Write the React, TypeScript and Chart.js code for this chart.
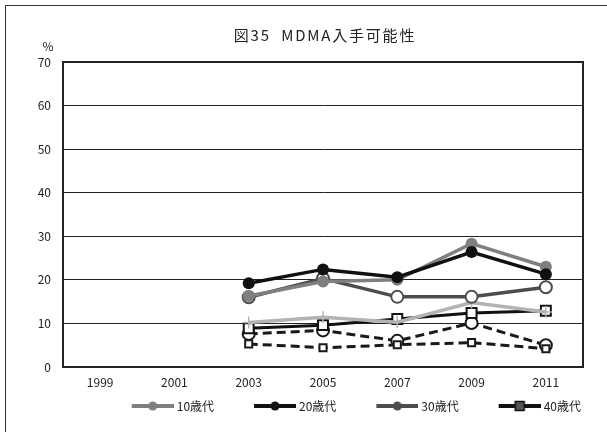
import React, { useEffect, useRef } from "react";
import { Chart, registerables } from "chart.js";

Chart.register(...registerables);

const years = ["1999", "2001", "2003", "2005", "2007", "2009", "2011"];
const yTicks = [0, 10, 20, 30, 40, 50, 60, 70];
const legendNames = ["10歳代", "20歳代", "30歳代", "40歳代"];

const teens = [null, null, 16.3, 19.6, 20.0, 28.3, 23.0];
const twenties = [null, null, 19.2, 22.4, 20.6, 26.4, 21.3];
const thirties = [null, null, 16.0, 20.3, 16.1, 16.1, 18.3];
const forties = [null, null, 8.9, 9.6, 11.0, 12.4, 12.9];
const plusSeries = [null, null, 10.2, 11.4, 10.3, 14.8, 12.6];
const dashCircle = [null, null, 7.6, 8.4, 6.0, 10.1, 5.0];
const dashSquare = [null, null, 5.3, 4.4, 5.1, 5.6, 4.2];

const ICON_W = 77;

function legendIcon(color: string, kind: "circle" | "square", fill: string) {
  const c = document.createElement("canvas");
  const w = ICON_W + 6;
  c.width = w;
  c.height = 12;
  const ctx = c.getContext("2d")!;
  const x0 = w - 42;
  ctx.strokeStyle = color;
  ctx.lineWidth = 4;
  ctx.beginPath();
  ctx.moveTo(x0, 6);
  ctx.lineTo(w, 6);
  ctx.stroke();
  ctx.fillStyle = fill;
  const cx = x0 + 21;
  if (kind === "circle") {
    ctx.beginPath();
    ctx.arc(cx, 6, 4.5, 0, Math.PI * 2);
    ctx.fill();
  } else {
    ctx.fillRect(cx - 4.5, 1.5, 9, 9);
    ctx.strokeStyle = "#111";
    ctx.lineWidth = 1.5;
    ctx.strokeRect(cx - 4.5, 1.5, 9, 9);
  }
  return c;
}

export default function App() {
  const ref = useRef<HTMLCanvasElement>(null);
  useEffect(() => {
    const icons = [
      legendIcon("#7f7f7f", "circle", "#7f7f7f"),
      legendIcon("#111111", "circle", "#111111"),
      legendIcon("#4d4d4d", "circle", "#4d4d4d"),
      legendIcon("#111111", "square", "#555555"),
    ];
    const font = "'Noto Sans CJK JP', 'Noto Sans', sans-serif";
    const decor = {
      id: "decor",
      afterDraw(chart: any) {
        const ctx = chart.ctx;
        const a = chart.chartArea;
        ctx.save();
        ctx.fillStyle = "#222";
        ctx.font = `15px ${font}`;
        ctx.textAlign = "center";
        ctx.textBaseline = "middle";
        try {
          (ctx as any).letterSpacing = "1.8px";
        } catch (e) {}
        ctx.fillText("図35  MDMA入手可能性", 325, 35);
        try {
          (ctx as any).letterSpacing = "0px";
        } catch (e) {}
        ctx.font = `12px ${font}`;
        ctx.fillText("%", 48, 46);
        ctx.strokeStyle = "#222";
        ctx.lineWidth = 2;
        ctx.strokeRect(a.left, a.top, a.right - a.left, a.bottom - a.top);
        ctx.restore();
      },
    };
    const chart = new Chart(ref.current!, {
      type: "line",
      data: {
        labels: years,
        datasets: [
          {
            label: legendNames[0],
            data: teens,
            borderColor: "#7f7f7f",
            backgroundColor: "#7f7f7f",
            borderWidth: 3.5,
            pointRadius: 6,
            pointBorderWidth: 0,
            pointBackgroundColor: "#7f7f7f",
            order: 3,
          },
          {
            label: legendNames[1],
            data: twenties,
            borderColor: "#111111",
            backgroundColor: "#111111",
            borderWidth: 3.5,
            pointRadius: 6,
            pointBorderWidth: 0,
            pointBackgroundColor: "#111111",
            order: 1,
          },
          {
            label: legendNames[2],
            data: thirties,
            borderColor: "#4d4d4d",
            backgroundColor: "#4d4d4d",
            borderWidth: 3.5,
            pointRadius: 6,
            pointBorderWidth: 2,
            pointBorderColor: "#4d4d4d",
            pointBackgroundColor: "#ffffff",
            order: 4,
          },
          {
            label: legendNames[3],
            data: forties,
            borderColor: "#111111",
            backgroundColor: "#111111",
            borderWidth: 3,
            pointStyle: "rect",
            pointRadius: 7,
            pointBorderWidth: 2,
            pointBorderColor: "#111111",
            pointBackgroundColor: "#ffffff",
            order: 6,
          },
          {
            label: "plus",
            data: plusSeries,
            borderColor: "#b3b3b3",
            backgroundColor: "#b3b3b3",
            borderWidth: 3.5,
            pointStyle: "cross",
            pointRadius: 6,
            pointBorderWidth: 1.5,
            pointBorderColor: "#b3b3b3",
            order: 5,
          },
          {
            label: "dashCircle",
            data: dashCircle,
            borderColor: "#1a1a1a",
            backgroundColor: "#1a1a1a",
            borderWidth: 3,
            borderDash: [9, 5],
            pointRadius: 6,
            pointBorderWidth: 2,
            pointBorderColor: "#1a1a1a",
            pointBackgroundColor: "#ffffff",
            order: 8,
          },
          {
            label: "dashSquare",
            data: dashSquare,
            borderColor: "#1a1a1a",
            backgroundColor: "#1a1a1a",
            borderWidth: 3,
            borderDash: [9, 5],
            pointStyle: "rect",
            pointRadius: 5,
            pointBorderWidth: 2,
            pointBorderColor: "#1a1a1a",
            pointBackgroundColor: "#ffffff",
            order: 7,
          },
        ],
      },
      options: {
        animation: false,
        responsive: false,
        maintainAspectRatio: false,
        spanGaps: false,
        layout: { padding: { top: 62, left: 0, right: 24, bottom: 10 } },
        plugins: {
          title: { display: false },
          tooltip: { enabled: false },
          legend: {
            position: "bottom",
            align: "end",
            labels: {
              usePointStyle: true,
              pointStyleWidth: ICON_W,
              boxHeight: 12,
              padding: 2,
              color: "#222",
              font: { family: font, size: 12 },
              filter: (item: any) => item.datasetIndex < 4,
              sort: (a: any, b: any) => a.datasetIndex - b.datasetIndex,
              generateLabels: (chart: any) => {
                const items = Chart.defaults.plugins.legend.labels.generateLabels(chart);
                return items.map((it: any) => ({
                  ...it,
                  pointStyle: icons[it.datasetIndex] || it.pointStyle,
                  lineWidth: 0,
                }));
              },
            },
          },
        },
        scales: {
          x: {
            offset: true,
            grid: { display: false, drawTicks: false },
            border: { display: true, color: "#222", width: 2 },
            ticks: { color: "#222", font: { family: font, size: 12 }, padding: 8, maxRotation: 0 },
            afterFit: (s: any) => {
              s.height = 31;
            },
          },
          y: {
            min: 0,
            max: 70,
            afterBuildTicks: (s: any) => {
              s.ticks = yTicks.map((v) => ({ value: v }));
            },
            grid: { color: "#222", lineWidth: 1, drawTicks: false },
            border: { display: true, color: "#222", width: 2 },
            ticks: { color: "#222", font: { family: font, size: 12 }, padding: 12 },
            afterFit: (s: any) => {
              s.width = 63;
            },
          },
        },
      },
      plugins: [decor],
    } as any);
    return () => chart.destroy();
  }, []);
  return (
    <div style={{ position: "fixed", left: 0, top: 0, width: 607, height: 432, background: "#fff" }}>
      <div
        style={{
          position: "absolute",
          left: 5,
          top: 5,
          width: 610,
          height: 440,
          borderLeft: "1px solid #333",
          borderTop: "1px solid #333",
        }}
      />
      <canvas ref={ref} width={607} height={432} style={{ position: "absolute", left: 0, top: 0 }} />
    </div>
  );
}
